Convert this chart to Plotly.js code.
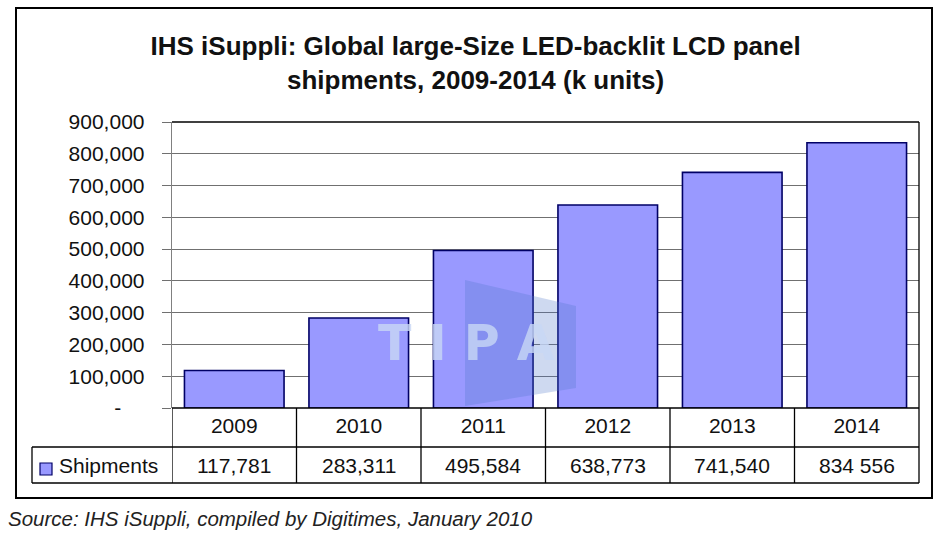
<!DOCTYPE html>
<html>
<head>
<meta charset="utf-8">
<script src="https://cdn.plot.ly/plotly-3.0.1.min.js"></script>
<style>html,body{margin:0;padding:0;background:#fff;}#chart{width:938px;height:536px;}</style>
</head>
<body>
<div id="chart"></div>
<script>
// ---- data ----
const years = ['2009', '2010', '2011', '2012', '2013', '2014'];
const shipments = [117781, 283311, 495584, 638773, 741540, 834556];
const shipmentLabels = ['117,781', '283,311', '495,584', '638,773', '741,540', '834 556'];
const seriesName = 'Shipments';
const yTickVals = [0, 100000, 200000, 300000, 400000, 500000, 600000, 700000, 800000, 900000];
const yTickText = ['-\u00a0\u00a0\u00a0\u00a0', '100,000', '200,000', '300,000', '400,000', '500,000', '600,000', '700,000', '800,000', '900,000'];
const titleText = 'IHS iSuppli: Global large-Size LED-backlit LCD panel<br>shipments, 2009-2014 (k units)';
const sourceText = 'Source: IHS iSuppli, compiled by Digitimes, January 2010';

// ---- layout helpers (pixel -> paper) ----
const W = 938, H = 536, L = 172, R = 919, T = 122, B = 408;
const px = x => (x - L) / (R - L);
const py = y => (B - y) / (B - T);
const FONT = 'Liberation Sans, Arial, sans-serif';
const BAR = '#9999FF', BAR_LINE = '#000066';

const trace = {
  type: 'bar',
  x: years,
  y: shipments,
  name: seriesName,
  marker: { color: BAR, line: { color: BAR_LINE, width: 1.6 } },
  hoverinfo: 'x+y'
};

const shapes = [];
const line = (x0, y0, x1, y1, xref, color, width) => shapes.push({
  type: 'line', xref: xref || 'paper', yref: 'paper', x0, y0, x1, y1,
  line: { color: color || '#000', width: width || 1.3 }, layer: 'above'
});
// plot frame: top and right black
line(0, 1, 1, 1);
line(1, 1, 1, py(483));
// table lines
line(0, 0, 1, 0, 'paper', '#000', 1.6);
line(px(32), py(447), 1, py(447));
line(px(32), py(483), 1, py(483), 'paper', '#000', 1.6);
line(px(32), py(447), px(32), py(483));
for (let i = 0; i < years.length; i++) {
  line(i - 0.5, 0, i - 0.5, py(483), 'x');
}
// legend key
shapes.push({ type: 'rect', xref: 'paper', yref: 'paper', x0: px(40), x1: px(52), y0: py(463), y1: py(475),
  fillcolor: BAR, line: { color: BAR_LINE, width: 1.2 }, layer: 'above' });
// outer border
shapes.push({ type: 'rect', xref: 'paper', yref: 'paper', x0: px(16), x1: px(932), y0: py(498), y1: py(8),
  line: { color: '#000', width: 2 }, fillcolor: 'rgba(0,0,0,0)', layer: 'above' });
// watermark logo
shapes.push({ type: 'path', xref: 'paper', yref: 'paper',
  path: `M ${px(465)} ${py(280)} L ${px(576)} ${py(306)} L ${px(576)} ${py(388)} L ${px(465)} ${py(406)} Z`,
  fillcolor: 'rgba(80,120,200,0.28)', line: { width: 0 }, layer: 'above' });

const annotations = [];
// values row (category index positions on the x axis)
years.forEach((yr, i) => {
  annotations.push({ xref: 'x', yref: 'paper', x: i, y: py(465), text: shipmentLabels[i],
    showarrow: false, xanchor: 'center', yanchor: 'middle', font: { family: FONT, size: 21, color: '#111' } });
});
annotations.push({ xref: 'paper', yref: 'paper', x: px(57), y: py(465), text: seriesName, showarrow: false,
  xanchor: 'left', yanchor: 'middle', font: { family: FONT, size: 21, color: '#111' } });
annotations.push({ xref: 'paper', yref: 'paper', x: px(6), y: py(518), text: '<i>' + sourceText + '</i>', showarrow: false,
  xanchor: 'left', yanchor: 'middle', font: { family: FONT, size: 20.5, color: '#222' } });
annotations.push({ xref: 'paper', yref: 'paper', x: px(466), y: py(343), text: '<b>T I P A</b>', showarrow: false,
  xanchor: 'center', yanchor: 'middle', font: { family: 'DejaVu Sans, sans-serif', size: 49, color: 'rgba(200,215,245,0.8)' } });

const layout = {
  width: W, height: H,
  margin: { l: L, r: W - R, t: T, b: H - B, pad: 0 },
  paper_bgcolor: '#fff', plot_bgcolor: '#fff',
  showlegend: false,
  bargap: 0.2,
  title: {
    text: '<b>' + titleText + '</b>',
    xref: 'container', yref: 'container', x: 0.507, y: 1 - 55 / H, xanchor: 'center', yanchor: 'middle',
    font: { family: FONT, size: 26, color: '#111' }
  },
  xaxis: {
    type: 'category', range: [-0.5, 5.5], showgrid: false, zeroline: false, showline: false,
    ticks: '', ticklabelstandoff: 3, tickfont: { family: FONT, size: 21, color: '#111' }, fixedrange: true
  },
  yaxis: {
    range: [0, 900000], tickvals: yTickVals, ticktext: yTickText,
    showgrid: true, gridcolor: '#707070', gridwidth: 1, zeroline: false,
    showline: true, linecolor: '#808080', linewidth: 1.3,
    ticks: 'outside', ticklen: 9, tickcolor: '#707070', tickwidth: 1,
    ticklabelstandoff: 13, tickfont: { family: FONT, size: 21, color: '#111' }, fixedrange: true
  },
  shapes, annotations
};

Plotly.newPlot('chart', [trace], layout, { displayModeBar: false, staticPlot: true });
</script>
</body>
</html>
